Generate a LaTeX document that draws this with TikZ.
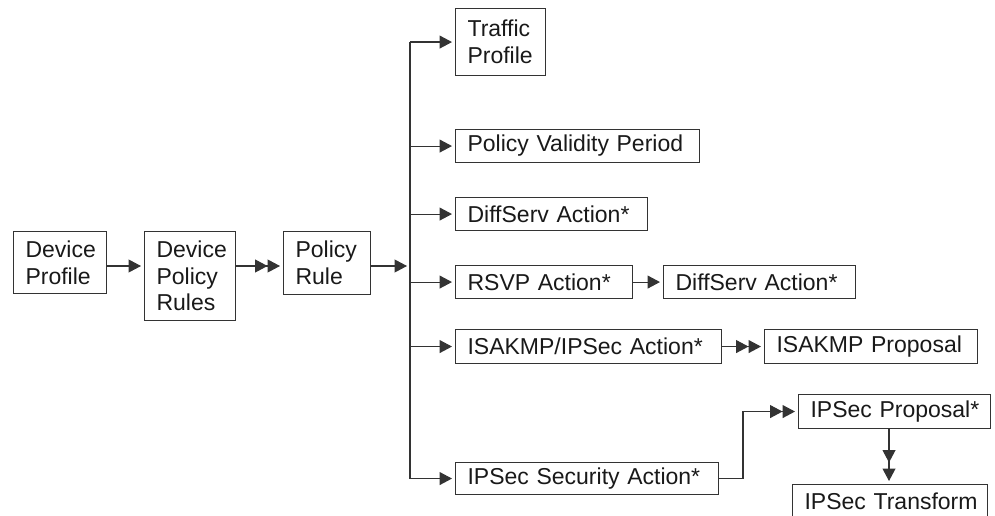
\documentclass[tikz,border=0pt]{standalone}
\usepackage{fontspec}
\setmainfont{Liberation Sans}
\usetikzlibrary{arrows.meta}
\definecolor{linec}{gray}{0.2}
\definecolor{textc}{gray}{0.1}
\hbadness=10000 \hfuzz=200pt
\tikzset{
  box/.style={draw=linec, line width=1.1pt, anchor=north west, inner xsep=12pt, inner ysep=0pt,
    align=left, font=\fontsize{23}{26.7}\selectfont, text=textc},
  conn/.style={draw=linec, line width=1.1pt},
  sarr/.style={conn, -{Triangle[length=12.5pt,width=13pt]}, shorten >=3pt},
  darr/.style={conn, -{Triangle[length=12.5pt,width=13pt]Triangle[length=12.5pt,width=13pt]}, shorten >=3pt},
  vdarr/.style={conn, -{Triangle[length=12.5pt,width=13pt,sep=6pt]Triangle[length=12.5pt,width=13pt]}, shorten >=3pt},
}
\begin{document}
\begin{tikzpicture}[x=1pt,y=-1pt]
\useasboundingbox (0,0) rectangle (995,516);
\clip (0,0) rectangle (995,516);
% boxes: text width = W - 24
\node[box, minimum height=62pt, text width=69pt] (dp)   at (13,231)  {Device\\Profile};
\node[box, minimum height=89pt, text width=67pt] (dpr)  at (144,231) {Device\\Policy\\Rules};
\node[box, minimum height=63pt, text width=63pt] (pr)   at (283,231) {Policy\\Rule};
\node[box, minimum height=67pt, text width=66pt] (tp)   at (455,8)   {Traffic\\Profile};
\node[box, minimum height=33pt, text width=220pt] (pvp) at (455,129) {\mbox{Policy Validity Period}};
\node[box, minimum height=33pt, text width=168pt] (ds1) at (455,197) {\mbox{DiffServ Action*}};
\node[box, minimum height=33pt, text width=153pt] (rsvp) at (455,265) {\mbox{RSVP Action*}};
\node[box, minimum height=33pt, text width=168pt] (ds2) at (663,265) {\mbox{DiffServ Action*}};
\node[box, minimum height=34pt, text width=242pt] (isa) at (455,329) {\mbox{ISAKMP/IPSec Action*}};
\node[box, minimum height=34pt, text width=189pt] (isap) at (764,329) {\mbox{ISAKMP Proposal}};
\node[box, minimum height=32pt, text width=239pt] (ipsa) at (455,462) {\mbox{IPSec Security Action*}};
\node[box, minimum height=34pt, text width=168pt] (ipp) at (798,394) {\mbox{IPSec Proposal*}};
\node[box, minimum height=34pt, text width=171pt] (ipt) at (792,484) {\mbox{IPSec Transform}};
% helper coordinates
\coordinate (row) at (0,266);
\coordinate (bus) at (410,0);
\coordinate (elbow) at (743,0);
\coordinate (vx) at (889,0);
% main chain
\draw[sarr] (dp.east |- row) -- (dpr.west |- row);
\draw[darr] (dpr.east |- row) -- (pr.west |- row);
\draw[sarr] (pr.east |- row) -- (bus |- row);
% bus
\draw[conn] (tp.west -| bus) -- (ipsa.west -| bus);
\foreach \n in {tp,pvp,ds1,rsvp,isa,ipsa}
  \draw[sarr] (\n.west -| bus) -- (\n.west);
% secondary
\draw[sarr] (rsvp.east) -- (ds2.west);
\draw[darr] (isa.east) -- (isap.west);
\draw[darr] (ipsa.east) -- (ipsa.east -| elbow) -- (ipp.west -| elbow) -- (ipp.west);
\draw[vdarr] (ipp.south -| vx) -- (ipt.north -| vx);
\end{tikzpicture}
\end{document}
